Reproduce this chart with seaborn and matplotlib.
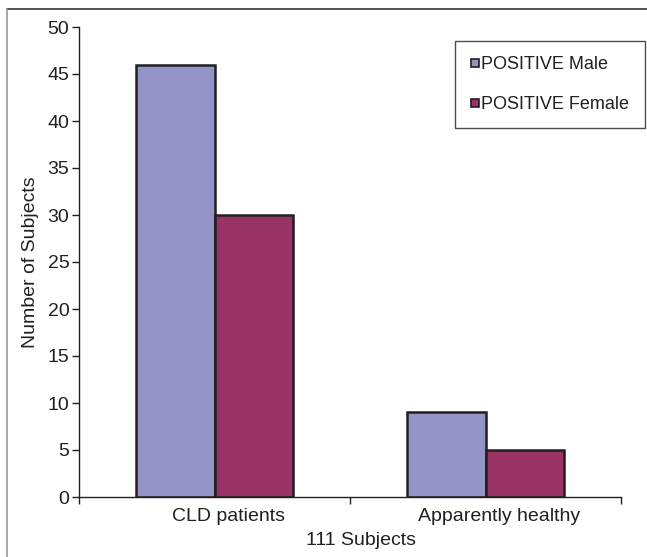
import matplotlib
matplotlib.use("Agg")
import matplotlib.pyplot as plt
import seaborn as sns
import pandas as pd
from matplotlib.lines import Line2D
from matplotlib.ticker import FixedLocator
from matplotlib.transforms import ScaledTranslation

groups = ["CLD patients", "Apparently healthy"]
series = ["POSITIVE Male", "POSITIVE Female"]
male_counts = [46, 9]
female_counts = [30, 5]
y_ticks = [0, 5, 10, 15, 20, 25, 30, 35, 40, 45, 50]

df = pd.DataFrame({
    "group": groups * 2,
    "series": [series[0]] * 2 + [series[1]] * 2,
    "count": male_counts + female_counts,
})

sns.set_style("white")
plt.rcParams["font.family"] = ["Liberation Sans", "DejaVu Sans"]

fig = plt.figure(figsize=(6.47, 5.57), dpi=100)
ax = fig.add_axes([79 / 647, 1 - 497 / 557, (621 - 79) / 647, (497 - 27) / 557])

palette = {series[0]: "#9494C8", series[1]: "#993366"}
sns.barplot(data=df, x="group", y="count", hue="series", order=groups,
            hue_order=series, palette=palette, width=0.58, saturation=1,
            edgecolor="#231F20", linewidth=1.8, ax=ax, legend=False)

ax.set_xlim(-0.5, 1.5)
ax.set_ylim(0, 50)
ax.set_yticks(y_ticks)
ax.tick_params(axis="y", length=5, width=1, direction="out", left=True,
               labelsize=14, color="#231F20", pad=2, labelcolor="#231F20")
ax.tick_params(axis="x", which="major", length=0, labelsize=14, pad=8,
               labelcolor="#231F20")
ax.xaxis.set_minor_locator(FixedLocator([-0.5, 0.5, 1.5]))
ax.tick_params(axis="x", which="minor", length=5, width=1, direction="out",
               bottom=True, color="#231F20")

# category labels sit slightly right of the bar pair centres
shift = ScaledTranslation(14 / 100, 0, fig.dpi_scale_trans)
for lbl in ax.get_xticklabels():
    lbl.set_transform(lbl.get_transform() + shift)

for side in ["top", "right"]:
    ax.spines[side].set_visible(False)
for side in ["left", "bottom"]:
    ax.spines[side].set_color("#231F20")
    ax.spines[side].set_linewidth(1)

ax.set_xlabel("111 Subjects", fontsize=14, labelpad=5, color="#231F20")
ax.xaxis.label.set_x(0.5 + 11 / 542)
ax.set_ylabel("Number of Subjects", fontsize=14, labelpad=6, color="#231F20")

handles = [Line2D([], [], marker="s", linestyle="none", markersize=6,
                  markerfacecolor=palette[s], markeredgecolor="#231F20",
                  markeredgewidth=1.2) for s in series]
leg = ax.legend(handles, series, loc="upper left",
                bbox_to_anchor=((455 - 79) / (621 - 79), 1 - (41 - 27) / (497 - 27)),
                fontsize=13, frameon=True, fancybox=False, handlelength=0.5,
                handletextpad=0.1, labelspacing=1.25, borderpad=0.85,
                borderaxespad=0, edgecolor="#231F20")
leg.get_frame().set_linewidth(1)
for t in leg.get_texts():
    t.set_color("#231F20")

# outer frame lines along the top and left of the figure
fig.add_artist(Line2D([7 / 647, 1.0], [1 - 9 / 557, 1 - 9 / 557],
                      transform=fig.transFigure, color="#333333", linewidth=1.2))
fig.add_artist(Line2D([7 / 647, 7 / 647], [0.0, 1 - 9 / 557],
                      transform=fig.transFigure, color="#999999", linewidth=1.2))

fig.savefig("out.png", dpi=100)
